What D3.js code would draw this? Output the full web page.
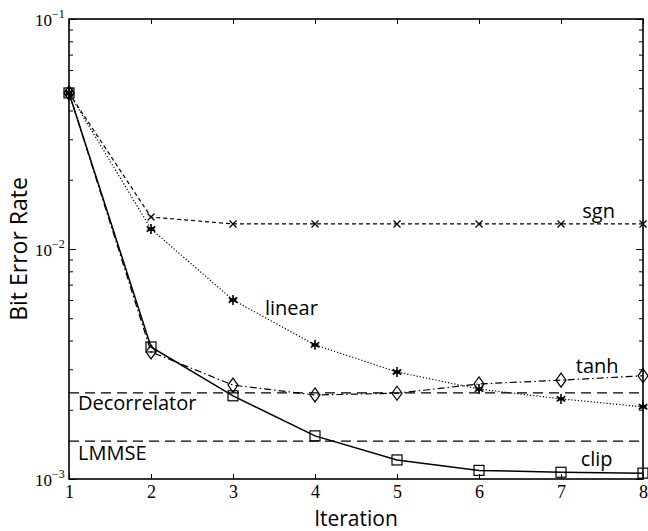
<!DOCTYPE html>
<html>
<head>
<meta charset="utf-8">
<script src="https://cdn.jsdelivr.net/npm/d3@7"></script>
<style>
  body { margin: 0; background: #fff; }
  .lbl { font-family: "Open Sans", "DejaVu Sans", sans-serif; font-size: 20px; fill: #000; }
</style>
</head>
<body>
<div class="content"></div>
<script>
// Set the dimensions and margins of the graph
var margin = {top: 19, right: 5, bottom: 52, left: 69},
    width = 648 - margin.left - margin.right,
    height = 531 - margin.top - margin.bottom;

// Data
var iterations = [1, 2, 3, 4, 5, 6, 7, 8];
var sgnBer    = [0.0477, 0.01377, 0.01285, 0.01285, 0.01285, 0.01285, 0.01285, 0.01285];
var linearBer = [0.0477, 0.01222, 0.0060, 0.00383, 0.00292, 0.00246, 0.00223, 0.00206];
var tanhBer   = [0.0477, 0.00357, 0.00256, 0.00232, 0.00236, 0.00259, 0.00269, 0.00281];
var clipBer   = [0.0477, 0.00375, 0.00230, 0.00154, 0.00121, 0.00109, 0.00107, 0.00106];
var decorrelatorBer = 0.00237;
var lmmseBer = 0.00146;
var yTicks = [1e-3, 1e-2, 1e-1];
var yExps = ["\u22123", "\u22122", "\u22121"];

var series = [
  {name: "sgn",    values: sgnBer,    dash: "4,3",         marker: "x"},
  {name: "linear", values: linearBer, dash: "1.2,2",       marker: "star"},
  {name: "tanh",   values: tanhBer,   dash: "7,3,1.5,3",   marker: "diamond"},
  {name: "clip",   values: clipBer,   dash: null,          marker: "square"}
];

var svg = d3.select(".content").append("svg")
    .attr("width", width + margin.left + margin.right)
    .attr("height", height + margin.top + margin.bottom)
  .append("g")
    .attr("transform", "translate(" + margin.left + "," + margin.top + ")");

var x = d3.scaleLinear().domain([1, 8]).range([0, width]);
var y = d3.scaleLog().domain([1e-3, 1e-1]).range([height, 0]);

// minor ticks for the log axis
var minorTicks = y.ticks().filter(function(t) { return yTicks.indexOf(t) < 0; });

var serif = '"Liberation Serif", "Times New Roman", serif';

// axes with inward ticks
var bottomAxis = d3.axisBottom(x).tickValues(iterations).tickFormat(d3.format("d"))
    .tickSizeInner(-5).tickSizeOuter(0).tickPadding(6);
svg.append("g")
    .attr("transform", "translate(0," + height + ")")
    .call(bottomAxis)
    .call(function(g) {
      g.select(".domain").remove();
      g.selectAll("text").style("font-family", serif).style("font-size", "18px");
    });
svg.append("g")
    .call(d3.axisTop(x).tickValues(iterations).tickFormat("").tickSizeInner(-5).tickSizeOuter(0))
    .call(function(g) { g.select(".domain").remove(); });

// y axis: major labels drawn as 10^exp
var leftAxis = d3.axisLeft(y).tickValues(yTicks).tickFormat("").tickSizeInner(-7).tickSizeOuter(0);
var yl = svg.append("g").call(leftAxis);
yl.select(".domain").remove();
yl.selectAll(".tick text").remove();
yl.selectAll(".tick").append("text")
    .attr("x", -17)
    .attr("y", 6)
    .attr("fill", "#000")
    .attr("text-anchor", "end")
    .style("font-family", serif)
    .style("font-size", "17px")
    .text("10");
yl.selectAll(".tick").append("text")
    .attr("x", -17)
    .attr("y", -2)
    .attr("fill", "#000")
    .attr("text-anchor", "start")
    .style("font-family", serif)
    .style("font-size", "12px")
    .text(function(d, i) { return yExps[i]; });
svg.append("g").call(d3.axisLeft(y).tickValues(minorTicks).tickFormat("").tickSizeInner(-4).tickSizeOuter(0))
    .call(function(g) { g.select(".domain").remove(); });
svg.append("g").attr("transform", "translate(" + width + ",0)")
    .call(d3.axisRight(y).tickValues(yTicks).tickFormat("").tickSizeInner(-7).tickSizeOuter(0))
    .call(function(g) { g.select(".domain").remove(); });
svg.append("g").attr("transform", "translate(" + width + ",0)")
    .call(d3.axisRight(y).tickValues(minorTicks).tickFormat("").tickSizeInner(-4).tickSizeOuter(0))
    .call(function(g) { g.select(".domain").remove(); });

// frame
svg.append("rect")
    .attr("width", width).attr("height", height)
    .attr("fill", "none").attr("stroke", "#000").attr("stroke-width", 1.6);

// reference lines
[decorrelatorBer, lmmseBer].forEach(function(v) {
  svg.append("line")
    .attr("x1", 0).attr("x2", width)
    .attr("y1", y(v)).attr("y2", y(v))
    .attr("stroke", "#000").attr("stroke-width", 1.3)
    .attr("stroke-dasharray", "10,6");
});

// series lines
var line = d3.line()
    .x(function(d, i) { return x(iterations[i]); })
    .y(function(d) { return y(d); });

series.forEach(function(s) {
  svg.append("path")
    .attr("d", line(s.values))
    .attr("fill", "none")
    .attr("stroke", "#000")
    .attr("stroke-width", s.dash ? 1.2 : 1.5)
    .attr("stroke-dasharray", s.dash);
});

// markers
function drawMarker(g, type) {
  if (type === "x") {
    g.append("path").attr("d", "M-3.5,-3.5L3.5,3.5M-3.5,3.5L3.5,-3.5")
      .attr("stroke", "#000").attr("stroke-width", 1.3);
  } else if (type === "star") {
    g.append("path").attr("d", "M0,-5V5M-4.3,-2.5L4.3,2.5M-4.3,2.5L4.3,-2.5M-3.5,0H3.5")
      .attr("stroke", "#000").attr("stroke-width", 1.6);
  } else if (type === "diamond") {
    g.append("path").attr("d", "M0,-7L5,0L0,7L-5,0Z")
      .attr("fill", "none").attr("stroke", "#000").attr("stroke-width", 1.2);
  } else if (type === "square") {
    g.append("rect").attr("x", -5).attr("y", -5).attr("width", 10).attr("height", 10)
      .attr("fill", "none").attr("stroke", "#000").attr("stroke-width", 1.2);
  }
}
series.forEach(function(s) {
  s.values.forEach(function(v, i) {
    var g = svg.append("g").attr("transform", "translate(" + x(iterations[i]) + "," + y(v) + ")");
    drawMarker(g, s.marker);
  });
});

// inline labels (positions in data units)
var labels = [
  {text: "sgn",          xv: 7.26, v: 0.01364},
  {text: "linear",       xv: 3.39, v: 0.00516},
  {text: "tanh",         xv: 7.18, v: 0.00289},
  {text: "Decorrelator", xv: 1.11, v: 0.00200},
  {text: "LMMSE",        xv: 1.11, v: 0.00121},
  {text: "clip",         xv: 7.24, v: 0.00114}
];
svg.selectAll("myLabels")
  .data(labels)
  .enter()
  .append("text")
    .attr("class", "lbl")
    .attr("x", function(d) { return x(d.xv); })
    .attr("y", function(d) { return y(d.v); })
    .text(function(d) { return d.text; });

// axis titles
svg.append("text")
    .attr("class", "lbl")
    .attr("text-anchor", "middle")
    .attr("x", width / 2)
    .attr("y", height + 47)
    .style("font-size", "21px")
    .text("Iteration");
svg.append("text")
    .attr("class", "lbl")
    .attr("text-anchor", "middle")
    .attr("transform", "translate(-42," + (height / 2) + ") rotate(-90)")
    .style("font-size", "23px")
    .text("Bit Error Rate");
</script>
</body>
</html>
